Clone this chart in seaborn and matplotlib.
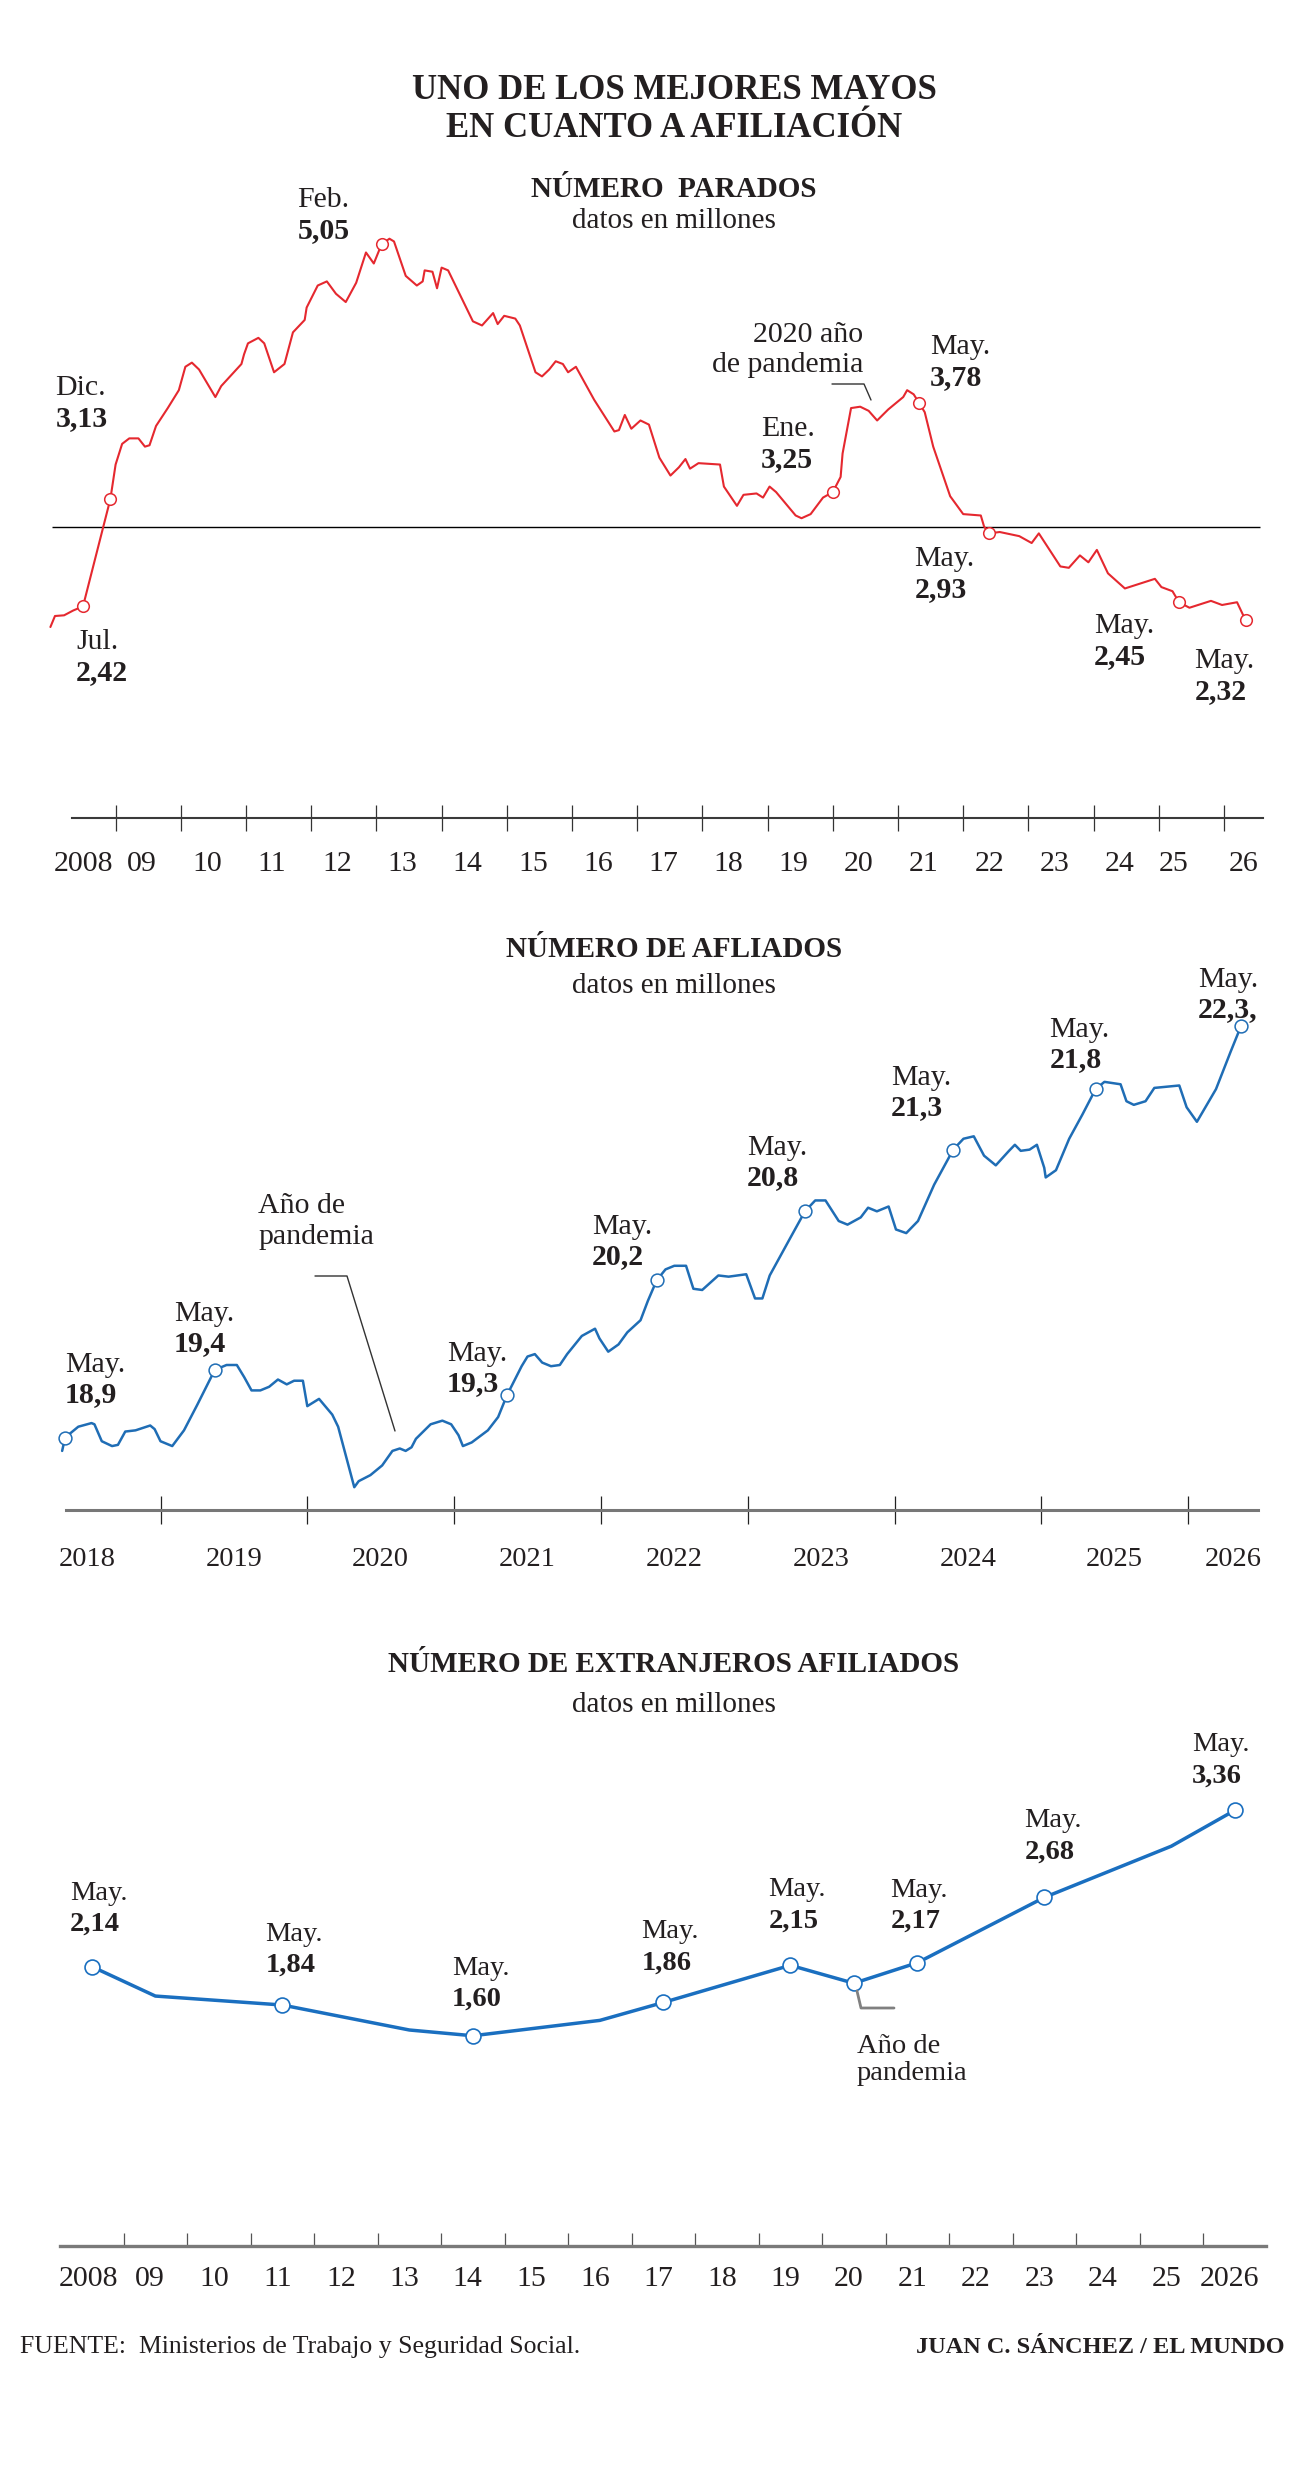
import matplotlib
matplotlib.use("Agg")
import matplotlib.pyplot as plt
import matplotlib.transforms as mtransforms
from matplotlib.lines import Line2D
from matplotlib.ticker import NullFormatter
import seaborn as sns

sns.set_style("white")
plt.rcParams["font.family"] = ["Liberation Serif", "DejaVu Serif"]

W, H = 1292, 2466
INK = "#231f20"
RED = "#e5282f"
BLUE = "#1f6db5"
BLUE3 = "#1a6fc0"

# ---------------- data (millions) ----------------
# Parados registrados (decimal year, value)
paro_t = [2008.00, 2008.07, 2008.21, 2008.35, 2008.50, 2008.92, 2009.00, 2009.10, 2009.21,
          2009.35, 2009.45, 2009.52, 2009.62, 2009.80, 2009.97, 2010.07, 2010.17, 2010.28,
          2010.53, 2010.62, 2010.93, 2010.97, 2011.03, 2011.19, 2011.28, 2011.43, 2011.59,
          2011.72, 2011.90, 2011.93, 2012.10, 2012.24, 2012.38, 2012.53, 2012.69, 2012.84,
          2012.96, 2013.08, 2013.20, 2013.27, 2013.45, 2013.62, 2013.71, 2013.74, 2013.86,
          2013.93, 2014.00, 2014.10, 2014.48, 2014.62, 2014.79, 2014.86, 2014.96, 2015.13,
          2015.20, 2015.44, 2015.54, 2015.65, 2015.75, 2015.86, 2015.94, 2016.06, 2016.34,
          2016.65, 2016.72, 2016.81, 2016.91, 2017.05, 2017.18, 2017.24, 2017.34, 2017.51,
          2017.64, 2017.74, 2017.81, 2017.94, 2018.27, 2018.33, 2018.53, 2018.63, 2018.83,
          2018.93, 2019.03, 2019.13, 2019.43, 2019.52, 2019.66, 2019.85, 2020.00, 2020.12,
          2020.15, 2020.28, 2020.42, 2020.55, 2020.68, 2020.85, 2021.08, 2021.14, 2021.24,
          2021.32, 2021.41, 2021.54, 2021.80, 2022.00, 2022.27, 2022.32, 2022.40, 2022.56,
          2022.86, 2023.05, 2023.16, 2023.49, 2023.62, 2023.79, 2023.92, 2024.05, 2024.22,
          2024.48, 2024.81, 2024.94, 2025.04, 2025.21, 2025.31, 2025.47, 2025.80, 2025.97,
          2026.20, 2026.33]
paro_v = [2.27, 2.35, 2.355, 2.39, 2.42, 3.20, 3.45, 3.60, 3.64,
          3.64, 3.58, 3.59, 3.73, 3.86, 3.99, 4.16, 4.19, 4.14,
          3.94, 4.02, 4.18, 4.25, 4.33, 4.37, 4.33, 4.12, 4.18,
          4.41, 4.50, 4.59, 4.75, 4.78, 4.69, 4.63, 4.77, 4.99,
          4.91, 5.05, 5.09, 5.07, 4.82, 4.75, 4.78, 4.86, 4.85,
          4.73, 4.88, 4.86, 4.49, 4.46, 4.55, 4.47, 4.53, 4.51,
          4.46, 4.12, 4.09, 4.14, 4.20, 4.18, 4.12, 4.16, 3.92,
          3.69, 3.70, 3.81, 3.71, 3.77, 3.74, 3.65, 3.50, 3.37,
          3.43, 3.49, 3.42, 3.46, 3.45, 3.29, 3.15, 3.23, 3.24,
          3.21, 3.29, 3.25, 3.08, 3.06, 3.09, 3.21, 3.25, 3.36,
          3.53, 3.86, 3.87, 3.84, 3.77, 3.85, 3.94, 3.99, 3.96,
          3.90, 3.83, 3.58, 3.22, 3.09, 3.08, 3.00, 2.95, 2.96,
          2.93, 2.88, 2.95, 2.71, 2.70, 2.79, 2.74, 2.83, 2.66,
          2.55, 2.60, 2.62, 2.56, 2.53, 2.45, 2.41, 2.46, 2.43,
          2.45, 2.32]
paro_ref = 3.0
paro_mark_t = [2008.50, 2008.92, 2013.08, 2020.00, 2021.32, 2022.40, 2025.31, 2026.33]
paro_mark_v = [2.42, 3.20, 5.05, 3.25, 3.90, 2.95, 2.45, 2.32]
paro_mark_mes = ["Jul.", "Dic.", "Feb.", "Ene.", "May.", "May.", "May.", "May."]
paro_mark_txt = ["2,42", "3,13", "5,05", "3,25", "3,78", "2,93", "2,45", "2,32"]
paro_years = list(range(2008, 2027))
paro_year_lbl = ["2008", "09", "10", "11", "12", "13", "14", "15", "16", "17", "18",
                 "19", "20", "21", "22", "23", "24", "25", "26"]

# Afiliados a la Seguridad Social
afi_t = [2018.33, 2018.35, 2018.44, 2018.53, 2018.55, 2018.60, 2018.67, 2018.71, 2018.76,
         2018.83, 2018.93, 2018.96, 2019.00, 2019.08, 2019.16, 2019.25, 2019.37, 2019.45,
         2019.52, 2019.57, 2019.62, 2019.68, 2019.74, 2019.80, 2019.86, 2019.91, 2019.97,
         2020.00, 2020.08, 2020.17, 2020.21, 2020.32, 2020.35, 2020.43, 2020.51, 2020.58,
         2020.63, 2020.67, 2020.71, 2020.74, 2020.84, 2020.92, 2020.98, 2021.03, 2021.06,
         2021.12, 2021.23, 2021.30, 2021.36, 2021.46, 2021.50, 2021.55, 2021.60, 2021.66,
         2021.72, 2021.77, 2021.87, 2021.96, 2021.99, 2022.05, 2022.12, 2022.18, 2022.27,
         2022.32, 2022.38, 2022.44, 2022.50, 2022.58, 2022.63, 2022.69, 2022.80, 2022.87,
         2022.99, 2023.05, 2023.10, 2023.15, 2023.29, 2023.39, 2023.46, 2023.53, 2023.62,
         2023.68, 2023.77, 2023.82, 2023.88, 2023.96, 2024.01, 2024.08, 2024.16, 2024.27,
         2024.40, 2024.47, 2024.54, 2024.61, 2024.69, 2024.78, 2024.82, 2024.86, 2024.92,
         2024.97, 2025.02, 2025.03, 2025.10, 2025.19, 2025.28, 2025.37, 2025.43, 2025.54,
         2025.58, 2025.63, 2025.71, 2025.77, 2025.94, 2025.99, 2026.06, 2026.19, 2026.29,
         2026.36]
afi_v = [18.79, 18.90, 18.99, 19.02, 19.01, 18.87, 18.83, 18.84, 18.95,
         18.96, 19.00, 18.97, 18.87, 18.83, 18.96, 19.17, 19.46, 19.50,
         19.50, 19.40, 19.29, 19.29, 19.32, 19.38, 19.34, 19.37, 19.37,
         19.16, 19.22, 19.09, 18.99, 18.49, 18.54, 18.59, 18.67, 18.79,
         18.81, 18.79, 18.82, 18.89, 19.01, 19.04, 19.01, 18.92, 18.83,
         18.86, 18.96, 19.07, 19.25, 19.49, 19.57, 19.59, 19.52, 19.49,
         19.50, 19.59, 19.74, 19.80, 19.72, 19.61, 19.67, 19.77, 19.87,
         20.03, 20.20, 20.29, 20.32, 20.32, 20.13, 20.12, 20.24, 20.23,
         20.25, 20.05, 20.05, 20.24, 20.55, 20.77, 20.86, 20.86, 20.69,
         20.66, 20.72, 20.80, 20.77, 20.81, 20.62, 20.59, 20.69, 20.99,
         21.28, 21.37, 21.39, 21.23, 21.15, 21.27, 21.32, 21.27, 21.28,
         21.32, 21.13, 21.05, 21.11, 21.37, 21.57, 21.78, 21.84, 21.82,
         21.68, 21.65, 21.68, 21.79, 21.81, 21.63, 21.51, 21.78, 22.09,
         22.30]
afi_mark_t = [2018.35, 2019.37, 2021.36, 2022.38, 2023.39, 2024.40, 2025.37, 2026.36]
afi_mark_v = [18.90, 19.46, 19.25, 20.20, 20.77, 21.28, 21.78, 22.30]
afi_mark_txt = ["18,9", "19,4", "19,3", "20,2", "20,8", "21,3", "21,8", "22,3,"]
afi_years = list(range(2018, 2027))

# Extranjeros afiliados (dato de mayo de cada año)
ext_year = [2008, 2009, 2011, 2013, 2014, 2016, 2017, 2019, 2020, 2021, 2023, 2025, 2026]
ext_v = [2.14, 1.91, 1.84, 1.645, 1.60, 1.72, 1.86, 2.15, 2.01, 2.17, 2.68, 3.08, 3.36]
ext_mark_year = [2008, 2011, 2014, 2017, 2019, 2020, 2021, 2023, 2026]
ext_mark_v = [2.14, 1.84, 1.60, 1.86, 2.15, 2.01, 2.17, 2.68, 3.36]
ext_label_year = [2008, 2011, 2014, 2017, 2019, 2021, 2023, 2026]
ext_label_v = [2.14, 1.84, 1.60, 1.86, 2.15, 2.17, 2.68, 3.36]
ext_label_txt = ["2,14", "1,84", "1,60", "1,86", "2,15", "2,17", "2,68", "3,36"]
ext_years = list(range(2008, 2027))
ext_year_lbl = ["2008", "09", "10", "11", "12", "13", "14", "15", "16", "17", "18",
                "19", "20", "21", "22", "23", "24", "25", "2026"]

# ---------------- figure ----------------
fig = plt.figure(figsize=(W / 100, H / 100), dpi=100)
fig.patch.set_facecolor("white")
# pixel coords from top-left corner
pix = mtransforms.Affine2D().scale(1 / W, -1 / H).translate(0, 1) + fig.transFigure


def panel(top, bottom, t0, x0, px_year, v0, y0, px_unit):
    ax = fig.add_axes([0, 1 - bottom / H, 1, (bottom - top) / H])
    ax.set_xlim(t0 - x0 / px_year, t0 + (W - x0) / px_year)
    ax.set_ylim(v0 - (bottom - y0) / px_unit, v0 + (y0 - top) / px_unit)
    ax.patch.set_visible(False)
    sns.despine(ax=ax, left=True)
    ax.set_yticks([])
    return ax


def t_at(ax, X):
    a, b = ax.get_xlim()
    return a + (b - a) * X / W


def time_axis(ax, years, lbl_pos, lbl_txt, x_from, x_to, spine_col, spine_w,
              tick_dir, tick_len, tick_col, lbl_size, pad):
    ax.spines["bottom"].set_bounds(t_at(ax, x_from), t_at(ax, x_to))
    ax.spines["bottom"].set_color(spine_col)
    ax.spines["bottom"].set_linewidth(spine_w)
    ax.set_xticks(years[1:])
    ax.xaxis.set_major_formatter(NullFormatter())
    ax.set_xticks(lbl_pos, labels=lbl_txt, minor=True)
    ax.tick_params(axis="x", which="major", bottom=True, direction=tick_dir,
                   length=tick_len, width=0.9, color=tick_col)
    ax.tick_params(axis="x", which="minor", bottom=True, length=0, pad=pad,
                   labelsize=lbl_size, labelcolor=INK)


def mark_labels(ax, ts, vs, mes, txt, offsets, size, gap):
    for t, v, m, s, (dx, dy) in zip(ts, vs, mes, txt, offsets):
        ax.annotate(s, (t, v), xytext=(dx, dy), textcoords="offset pixels",
                    fontsize=size, fontweight="bold", ha="left", va="baseline", color=INK)
        ax.annotate(m, (t, v), xytext=(dx, dy + gap), textcoords="offset pixels",
                    fontsize=size, ha="left", va="baseline", color=INK)


def heading(y_title, y_sub, title, size=21):
    fig.text(674, y_title, title, transform=pix, ha="center", va="baseline",
             fontsize=size, fontweight="bold", color=INK)
    fig.text(674, y_sub, "datos en millones", transform=pix, ha="center",
             va="baseline", fontsize=21, color=INK)


def leader(xs, ys, color, lw):
    fig.add_artist(Line2D(xs, ys, transform=pix, color=color, lw=lw))


# title
fig.text(674, 99, "UNO DE LOS MEJORES MAYOS", transform=pix, ha="center",
         va="baseline", fontsize=25, fontweight="bold", color=INK)
fig.text(674, 137, "EN CUANTO A AFILIACIÓN", transform=pix, ha="center",
         va="baseline", fontsize=25, fontweight="bold", color=INK)

# ---------- Panel 1: parados ----------
heading(197, 228, "NÚMERO  PARADOS")
ax1 = panel(150, 818, 2009, 115.6, 65.2, 3.0, 526.5, 137.7)
ax1.hlines(paro_ref, t_at(ax1, 52), t_at(ax1, 1260), color="black", lw=1.0)
sns.lineplot(x=paro_t, y=paro_v, ax=ax1, color=RED, linewidth=1.5)
sns.scatterplot(x=paro_mark_t, y=paro_mark_v, ax=ax1, s=70, color="white",
                edgecolor=RED, linewidth=1.1, zorder=4)
p1_pos = [2008.5] + [y + 0.4 for y in paro_years[1:-2]] + [2025.22, 2026.3]
time_axis(ax1, paro_years, p1_pos, paro_year_lbl, 72, 1263, "#3a3a3a", 1.5,
          "inout", 18.5, "#333333", 21.5, 24)
mark_labels(ax1, paro_mark_t, paro_mark_v, paro_mark_mes, paro_mark_txt,
            [(-7, -74), (-55, 73), (-84, 6), (-72, 25), (11, 18), (-75, -64),
             (-85, -62), (-51, -79)], 21.5, 31)
fig.text(863, 342, "2020 año", transform=pix, ha="right", va="baseline",
         fontsize=21.5, color=INK)
fig.text(863, 372, "de pandemia", transform=pix, ha="right", va="baseline",
         fontsize=21.5, color=INK)
leader([832, 864, 871], [384, 384, 400], "#333333", 1.0)

# ---------- Panel 2: afiliados ----------
heading(957, 993, "NÚMERO DE AFLIADOS")
ax2 = panel(960, 1510, 2019, 160.5, 146.8, 18.9, 1437.6, 121)
sns.lineplot(x=afi_t, y=afi_v, ax=ax2, color=BLUE, linewidth=1.8)
sns.scatterplot(x=afi_mark_t, y=afi_mark_v, ax=ax2, s=85, color="white",
                edgecolor=BLUE, linewidth=1.1, zorder=4)
p2_pos = [y + 0.5 for y in afi_years[:-1]] + [2026.31]
time_axis(ax2, afi_years, p2_pos, [str(y) for y in afi_years], 66, 1258, "#777777", 2.2,
          "inout", 19.5, "#222222", 20.5, 27)
mark_labels(ax2, afi_mark_t, afi_mark_v, ["May."] * 8, afi_mark_txt,
            [(0, 36), (-41, 19), (-60, 4), (-65, 16), (-58, 26), (-62, 35),
             (-46, 22), (-43, 9)], 21.5, 30)
fig.text(258, 1213, "Año de", transform=pix, ha="left", va="baseline",
         fontsize=21.5, color=INK)
fig.text(258, 1244, "pandemia", transform=pix, ha="left", va="baseline",
         fontsize=21.5, color=INK)
leader([315, 347, 395], [1276, 1276, 1431], "#333333", 1.0)

# ---------- Panel 3: extranjeros ----------
heading(1672, 1712, "NÚMERO DE EXTRANJEROS AFILIADOS")
ax3 = panel(1730, 2245.7, 2009, 123.6, 63.5, 2.225, 1955.7, 128.1)
sns.lineplot(x=[y + 0.5 for y in ext_year], y=ext_v, ax=ax3, color=BLUE3, linewidth=2.5)
sns.scatterplot(x=[y + 0.5 for y in ext_mark_year], y=ext_mark_v, ax=ax3, s=115,
                color="white", edgecolor=BLUE3, linewidth=1.2, zorder=4)
p3_pos = [2008.45] + [y + 0.42 for y in ext_years[1:]]
time_axis(ax3, ext_years, p3_pos, ext_year_lbl, 60, 1266, "#7a7a7a", 2.4,
          "in", 9.5, "#555555", 21.5, 14.5)
mark_labels(ax3, [y + 0.5 for y in ext_label_year], ext_label_v, ["May."] * 8,
            ext_label_txt,
            [(-22, 36), (-17, 33), (-21, 30), (-22, 33), (-22, 38), (-27, 35),
             (-20, 39), (-43, 28)], 20.5, 31)
fig.text(857, 2053, "Año de", transform=pix, ha="left", va="baseline",
         fontsize=20.5, color=INK)
fig.text(857, 2080, "pandemia", transform=pix, ha="left", va="baseline",
         fontsize=20.5, color=INK)
leader([857, 861, 894], [1991, 2008, 2008], "#808080", 2.0)

# footer
fig.text(20, 2353, "FUENTE:  Ministerios de Trabajo y Seguridad Social.", transform=pix,
         ha="left", va="baseline", fontsize=18.5, color=INK)
fig.text(1284, 2353, "JUAN C. SÁNCHEZ / EL MUNDO", transform=pix, ha="right",
         va="baseline", fontsize=17.5, fontweight="bold", color=INK)

fig.savefig("out.png", dpi=100, facecolor="white")
